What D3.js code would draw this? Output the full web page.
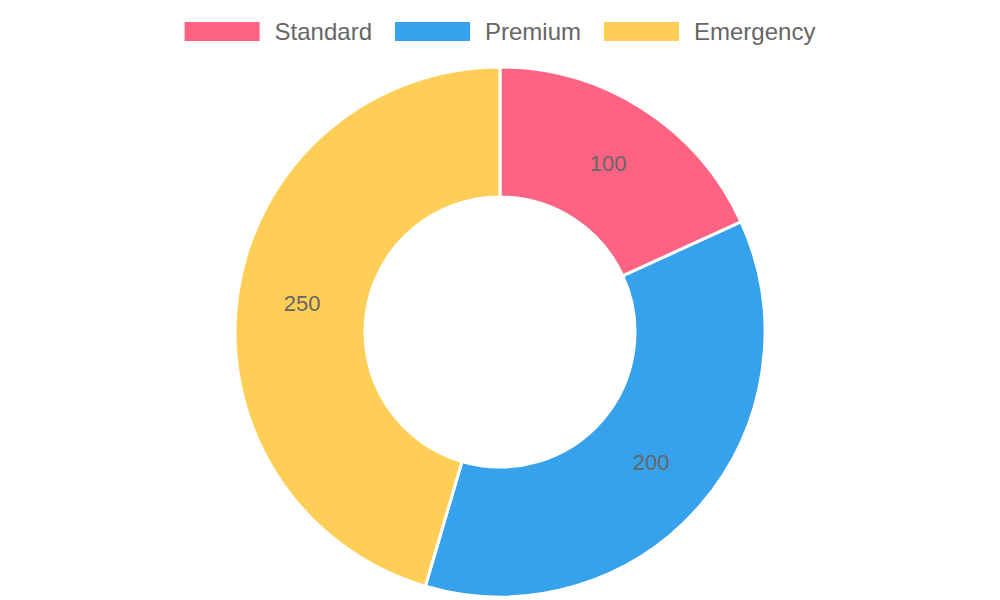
<!DOCTYPE html>
<html>
<head>
<meta charset="utf-8">
<script src="https://cdn.jsdelivr.net/npm/d3@7"></script>
<style>
  html, body { margin: 0; padding: 0; background: #fff; }
  svg { display: block; font-family: "Liberation Sans", Arial, sans-serif; }
</style>
</head>
<body>
<svg id="chart" width="1000" height="600"></svg>
<script>
const categories = ["Standard", "Premium", "Emergency"];
const values = [100, 200, 250];
const colors = ["#FF6384", "#36A2EB", "#FFCE56"];

const svg = d3.select("#chart");
const width = +svg.attr("width");
const cx = 500, cy = 332;
const outerR = 265, innerR = 135;

const pie = d3.pie().sort(null).value(d => d.value);
const arc = d3.arc().innerRadius(innerR).outerRadius(outerR);

const data = categories.map((c, i) => ({ name: c, value: values[i], color: colors[i] }));

const g = svg.append("g").attr("transform", `translate(${cx},${cy})`);

const slices = g.selectAll("g.slice")
    .data(pie(data))
    .join("g")
    .attr("class", "slice");

slices.append("path")
    .attr("d", arc)
    .attr("fill", d => d.data.color)
    .attr("stroke", "#fff")
    .attr("stroke-width", 3)
    .attr("stroke-linejoin", "bevel");

// value labels at the arc centroid
slices.append("text")
    .attr("transform", d => `translate(${arc.centroid(d)})`)
    .attr("text-anchor", "middle")
    .attr("dominant-baseline", "central")
    .attr("font-size", 22)
    .attr("fill", "#666")
    .text(d => d.data.value);

// legend
const boxW = 75, boxH = 19, gap = 15, itemGap = 23;
const legend = svg.append("g");
const items = legend.selectAll("g")
    .data(data)
    .join("g");

items.append("rect")
    .attr("width", boxW)
    .attr("height", boxH)
    .attr("fill", d => d.color);

items.append("text")
    .attr("x", boxW + gap)
    .attr("y", boxH / 2)
    .attr("dominant-baseline", "central")
    .attr("font-size", 24)
    .attr("fill", "#666")
    .text(d => d.name);

let x = 0;
items.each(function () {
    const w = boxW + gap + this.querySelector("text").getComputedTextLength();
    d3.select(this).attr("transform", `translate(${x},0)`);
    x += w + itemGap;
});
const total = x - itemGap;
legend.attr("transform", `translate(${(width - total) / 2},22)`);
</script>
</body>
</html>
